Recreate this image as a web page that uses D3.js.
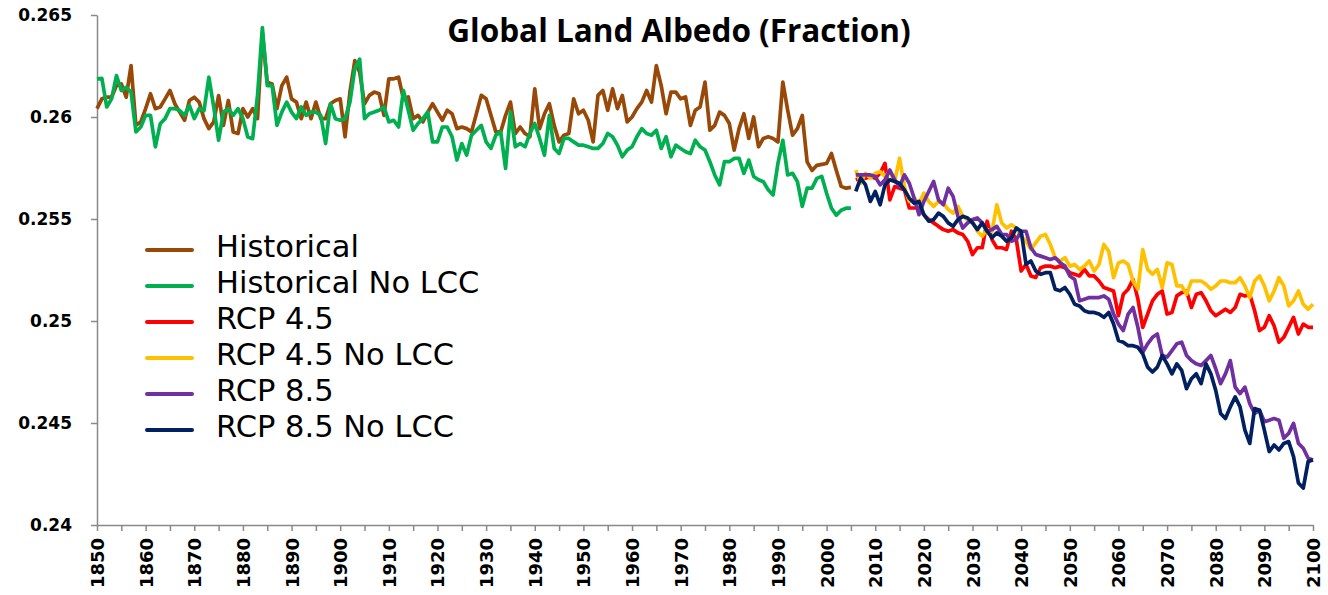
<!doctype html>
<html lang="en">
<head>
<meta charset="utf-8">
<title>Global Land Albedo (Fraction)</title>
<script src="https://cdnjs.cloudflare.com/ajax/libs/d3/7.8.5/d3.min.js"></script>
<style>
body { margin: 0; background: #fff; }
.axis path, .axis line { stroke: #898989; stroke-width: 1.5; }
.axis text { font-family: "DejaVu Sans", Verdana, sans-serif; font-weight: bold; font-size: 17px; fill: #000; }
.xaxis text { font-size: 18px; }
.title { font-family: "Open Sans", sans-serif; font-weight: bold; font-size: 31.5px; }
.legend text { font-family: "DejaVu Sans", Verdana, sans-serif; font-size: 30.5px; fill: #000; }
</style>
</head>
<body>
<div id="chart"></div>
<script>
// years: historical runs 1850-2005, scenarios 2006-2100
var histStart = 1850;
var rcpStart = 2006;

var historical = [
  0.26041, 0.26089, 0.26097, 0.26097, 0.26154, 0.26162, 0.26097, 0.26252, 0.25959, 0.25976,
  0.26041, 0.26114, 0.26041, 0.26049, 0.26089, 0.26130, 0.26065, 0.26024, 0.25984, 0.26081,
  0.26097, 0.26073, 0.25992, 0.25943, 0.25976, 0.26105, 0.25959, 0.26081, 0.25927, 0.25919,
  0.26041, 0.26000, 0.26041, 0.25992, 0.26414, 0.26170, 0.26162, 0.26041, 0.26154, 0.26195,
  0.26089, 0.26073, 0.25992, 0.26073, 0.25992, 0.26073, 0.25992, 0.25992, 0.26065, 0.26081,
  0.26089, 0.25903, 0.26122, 0.26276, 0.26219, 0.26065, 0.26106, 0.26122, 0.26114, 0.26008,
  0.26187, 0.26187, 0.26195, 0.26089, 0.26098, 0.25992, 0.26008, 0.25976, 0.26024, 0.26065,
  0.26024, 0.25984, 0.26033, 0.26016, 0.25943, 0.25951, 0.25943, 0.25927, 0.26016, 0.26106,
  0.26089, 0.26008, 0.25927, 0.25927, 0.26008, 0.26073, 0.25919, 0.25951, 0.25919, 0.25903,
  0.26138, 0.25943, 0.26016, 0.26065, 0.25959, 0.25878, 0.25911, 0.25919, 0.26089, 0.26016,
  0.26033, 0.25984, 0.25878, 0.26106, 0.26130, 0.26033, 0.26138, 0.26041, 0.26106, 0.25976,
  0.26000, 0.26041, 0.26073, 0.26130, 0.26073, 0.26252, 0.26154, 0.26016, 0.26122, 0.26122,
  0.26089, 0.26098, 0.25959, 0.26033, 0.26049, 0.26171, 0.25935, 0.25959, 0.26024, 0.26008,
  0.25968, 0.25838, 0.25943, 0.26016, 0.25895, 0.26000, 0.25854, 0.25895, 0.25903, 0.25895,
  0.25878, 0.26171, 0.26033, 0.25911, 0.25943, 0.26008, 0.25780, 0.25738, 0.25763, 0.25768,
  0.25772, 0.25821, 0.25738, 0.25660, 0.25651, 0.25655
];

var historicalNoLcc = [
  0.26187, 0.26190, 0.26049, 0.26089, 0.26203, 0.26130, 0.26146, 0.26122, 0.25927, 0.25951,
  0.26008, 0.26008, 0.25854, 0.25967, 0.25992, 0.26041, 0.26041, 0.26032, 0.26008, 0.26057,
  0.25992, 0.26041, 0.26032, 0.26195, 0.26049, 0.25886, 0.26024, 0.26041, 0.26008, 0.26041,
  0.25992, 0.25902, 0.25894, 0.26105, 0.26438, 0.26154, 0.26154, 0.25959, 0.26024, 0.26073,
  0.26024, 0.25992, 0.26049, 0.26008, 0.26024, 0.26024, 0.26008, 0.25870, 0.26065, 0.25992,
  0.25984, 0.25992, 0.26073, 0.26236, 0.26284, 0.25992, 0.26016, 0.26024, 0.26033, 0.26049,
  0.25976, 0.25984, 0.25951, 0.26130, 0.26033, 0.25935, 0.25968, 0.25992, 0.26024, 0.25878,
  0.25878, 0.25951, 0.25951, 0.25903, 0.25789, 0.25870, 0.25813, 0.25911, 0.25935, 0.25959,
  0.25878, 0.25846, 0.25911, 0.25927, 0.25748, 0.26024, 0.25854, 0.25870, 0.25854, 0.25919,
  0.25968, 0.25895, 0.25813, 0.26008, 0.25846, 0.25821, 0.25895, 0.25895, 0.25878, 0.25862,
  0.25862, 0.25854, 0.25846, 0.25846, 0.25870, 0.25919, 0.25903, 0.25862, 0.25805, 0.25838,
  0.25854, 0.25903, 0.25943, 0.25919, 0.25911, 0.25935, 0.25846, 0.25903, 0.25805, 0.25862,
  0.25846, 0.25830, 0.25821, 0.25886, 0.25854, 0.25838, 0.25781, 0.25716, 0.25667, 0.25781,
  0.25781, 0.25797, 0.25797, 0.25724, 0.25789, 0.25708, 0.25692, 0.25683, 0.25643, 0.25618,
  0.25773, 0.25886, 0.25716, 0.25724, 0.25683, 0.25562, 0.25651, 0.25651, 0.25699, 0.25709,
  0.25626, 0.25553, 0.25519, 0.25543, 0.25553, 0.25553
];

var rcp45 = [
  0.25692, 0.25700, 0.25700, 0.25708, 0.25700, 0.25724, 0.25773, 0.25594, 0.25659, 0.25651,
  0.25643, 0.25554, 0.25554, 0.25554, 0.25521, 0.25497, 0.25481, 0.25464, 0.25448, 0.25440,
  0.25448, 0.25432, 0.25424, 0.25391, 0.25326, 0.25359, 0.25359, 0.25489, 0.25399, 0.25359,
  0.25359, 0.25351, 0.25440, 0.25399, 0.25245, 0.25278, 0.25221, 0.25213, 0.25261, 0.25269,
  0.25269, 0.25261, 0.25269, 0.25261, 0.25237, 0.25229, 0.25221, 0.25253, 0.25221, 0.25221,
  0.25196, 0.25164, 0.25156, 0.25147, 0.25026, 0.25131, 0.25156, 0.25204, 0.25107, 0.24969,
  0.25034, 0.25099, 0.25131, 0.25147, 0.25034, 0.25042, 0.25123, 0.25139, 0.25147, 0.25066,
  0.25131, 0.25139, 0.25099, 0.25050, 0.25026, 0.25042, 0.25058, 0.25042, 0.25066, 0.25131,
  0.25123, 0.25131, 0.25050, 0.24953, 0.24969, 0.25026, 0.24977, 0.24896, 0.24920, 0.24969,
  0.25018, 0.24936, 0.24985, 0.24969, 0.24969
];

var rcp45NoLcc = [
  0.25740, 0.25675, 0.25724, 0.25700, 0.25724, 0.25732, 0.25708, 0.25732, 0.25684, 0.25797,
  0.25659, 0.25586, 0.25602, 0.25578, 0.25627, 0.25586, 0.25562, 0.25586, 0.25578, 0.25546,
  0.25529, 0.25562, 0.25513, 0.25497, 0.25489, 0.25440, 0.25416, 0.25448, 0.25440, 0.25570,
  0.25481, 0.25456, 0.25472, 0.25456, 0.25416, 0.25391, 0.25351, 0.25383, 0.25416, 0.25424,
  0.25375, 0.25310, 0.25294, 0.25310, 0.25269, 0.25277, 0.25253, 0.25269, 0.25294, 0.25245,
  0.25277, 0.25375, 0.25342, 0.25212, 0.25285, 0.25294, 0.25277, 0.25196, 0.25156, 0.25350,
  0.25253, 0.25229, 0.25253, 0.25164, 0.25285, 0.25277, 0.25172, 0.25172, 0.25131, 0.25196,
  0.25196, 0.25196, 0.25180, 0.25156, 0.25172, 0.25196, 0.25196, 0.25188, 0.25188, 0.25212,
  0.25172, 0.25115, 0.25196, 0.25221, 0.25172, 0.25099, 0.25147, 0.25212, 0.25172, 0.25074,
  0.25099, 0.25147, 0.25082, 0.25058, 0.25082
];

var rcp85 = [
  0.25716, 0.25716, 0.25716, 0.25716, 0.25708, 0.25667, 0.25692, 0.25740, 0.25692, 0.25659,
  0.25716, 0.25675, 0.25602, 0.25521, 0.25586, 0.25635, 0.25684, 0.25594, 0.25570, 0.25651,
  0.25611, 0.25513, 0.25456, 0.25481, 0.25497, 0.25505, 0.25481, 0.25440, 0.25448, 0.25464,
  0.25424, 0.25424, 0.25391, 0.25399, 0.25440, 0.25440, 0.25359, 0.25326, 0.25318, 0.25310,
  0.25302, 0.25310, 0.25286, 0.25269, 0.25221, 0.25204, 0.25099, 0.25107, 0.25115, 0.25115,
  0.25115, 0.25123, 0.25107, 0.25034, 0.24985, 0.24953, 0.25034, 0.25066, 0.24969, 0.24847,
  0.24888, 0.24920, 0.24936, 0.24831, 0.24823, 0.24855, 0.24888, 0.24896, 0.24831, 0.24806,
  0.24790, 0.24782, 0.24806, 0.24831, 0.24766, 0.24693, 0.24741, 0.24806, 0.24676, 0.24644,
  0.24676, 0.24595, 0.24547, 0.24563, 0.24506, 0.24514, 0.24522, 0.24514, 0.24425, 0.24449,
  0.24498, 0.24400, 0.24376, 0.24327, 0.24319
];

var rcp85NoLcc = [
  0.25635, 0.25700, 0.25667, 0.25586, 0.25635, 0.25570, 0.25667, 0.25692, 0.25684, 0.25675,
  0.25643, 0.25602, 0.25578, 0.25586, 0.25521, 0.25489, 0.25497, 0.25529, 0.25513, 0.25481,
  0.25464, 0.25497, 0.25513, 0.25505, 0.25481, 0.25448, 0.25481, 0.25440, 0.25408, 0.25432,
  0.25416, 0.25391, 0.25408, 0.25456, 0.25440, 0.25278, 0.25294, 0.25245, 0.25229, 0.25237,
  0.25237, 0.25156, 0.25148, 0.25164, 0.25131, 0.25082, 0.25074, 0.25050, 0.25042, 0.25042,
  0.25034, 0.25018, 0.25042, 0.24985, 0.24904, 0.24896, 0.24879, 0.24879, 0.24871, 0.24839,
  0.24774, 0.24750, 0.24774, 0.24831, 0.24790, 0.24741, 0.24790, 0.24758, 0.24668, 0.24717,
  0.24741, 0.24693, 0.24790, 0.24741, 0.24660, 0.24547, 0.24522, 0.24579, 0.24628, 0.24579,
  0.24465, 0.24400, 0.24571, 0.24563, 0.24465, 0.24360, 0.24392, 0.24368, 0.24400, 0.24409,
  0.24335, 0.24206, 0.24181, 0.24311, 0.24319
];

var yTicks = [0.24, 0.245, 0.25, 0.255, 0.26, 0.265];
var xTicks = d3.range(1850, 2101, 5);   // marks every 5 years, labels every 10

// series in drawing order (later ones sit on top)
var series = [
  { name: "Historical",        color: "#984807", start: histStart, values: historical },
  { name: "Historical No LCC", color: "#00B050", start: histStart, values: historicalNoLcc },
  { name: "RCP 4.5",           color: "#FF0000", start: rcpStart,  values: rcp45 },
  { name: "RCP 4.5 No LCC",    color: "#FFC000", start: rcpStart,  values: rcp45NoLcc },
  { name: "RCP 8.5",           color: "#7030A0", start: rcpStart,  values: rcp85 },
  { name: "RCP 8.5 No LCC",    color: "#002060", start: rcpStart,  values: rcp85NoLcc }
];

var width = 1328, height = 595;

var svg = d3.select("#chart").append("svg")
    .attr("width", width)
    .attr("height", height);

var x = d3.scaleLinear().domain([1850, 2100]).range([97, 1313]);
var y = d3.scaleLinear().domain([0.24, 0.265]).range([525, 15]);

// y axis
svg.append("g")
    .attr("class", "axis")
    .attr("transform", "translate(" + x(1850) + ",0)")
    .call(d3.axisLeft(y).tickValues(yTicks).tickSize(6).tickSizeOuter(0)
        .tickPadding(19).tickFormat(function(d) { return String(d); }));

// x axis, labels turned upright
var xAxis = svg.append("g")
    .attr("class", "axis xaxis")
    .attr("transform", "translate(0," + y(0.24) + ")")
    .call(d3.axisBottom(x).tickValues(xTicks).tickSize(6).tickSizeOuter(0)
        .tickFormat(function(d) { return d % 10 === 0 ? d : ""; }));

xAxis.selectAll("text")
    .attr("transform", "rotate(-90)")
    .attr("x", -13)
    .attr("y", 0)
    .attr("dy", "0.36em")
    .style("text-anchor", "end");

// lines
var line = d3.line()
    .x(function(d) { return x(d.year); })
    .y(function(d) { return y(d.value); });

series.forEach(function(s) {
    var pts = s.values.map(function(v, i) { return { year: s.start + i, value: v }; });
    svg.append("path")
        .datum(pts)
        .attr("fill", "none")
        .attr("stroke", s.color)
        .attr("stroke-width", 3.7)
        .attr("stroke-linejoin", "round")
        .attr("d", line);
});

// title
svg.append("text")
    .attr("class", "title")
    .attr("x", 679)
    .attr("y", 42)
    .attr("text-anchor", "middle")
    .text("Global Land Albedo (Fraction)");

// legend
var legend = svg.append("g").attr("class", "legend");
var rows = legend.selectAll("g")
    .data(series)
    .enter().append("g")
    .attr("transform", function(d, i) { return "translate(147," + (250 + i * 36) + ")"; });

rows.append("line")
    .attr("x1", 0).attr("x2", 45)
    .attr("y1", 0).attr("y2", 0)
    .attr("stroke", function(d) { return d.color; })
    .attr("stroke-width", 4)
    .attr("stroke-linecap", "round");

rows.append("text")
    .attr("x", 69)
    .attr("y", -4)
    .attr("dominant-baseline", "central")
    .text(function(d) { return d.name; });
</script>
</body>
</html>
